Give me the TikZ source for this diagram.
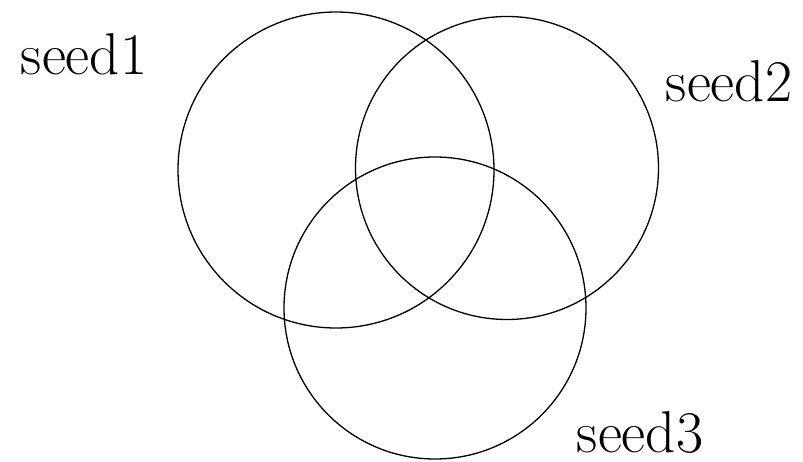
\documentclass[tikz,border=0pt]{standalone}
\begin{document}
\begin{tikzpicture}[x=1pt,y=-1pt,
  ring/.style={draw=black, line width=1.3pt},
  lab/.style={anchor=base, inner sep=0pt, font=\fontsize{59}{66}\selectfont}]
\useasboundingbox (0,0) rectangle (803,462);
\node[ring, circle, minimum size=316pt, inner sep=0pt] (c1) at (336,170) {};
\node[ring, circle, minimum size=303pt, inner sep=0pt] (c2) at (507,168) {};
\node[ring, circle, minimum size=302pt, inner sep=0pt] (c3) at (435,308) {};
\node[lab] (s1) at (84,75) {seed1};
\node[lab] (s2) at (729,102) {seed2};
\node[lab] (s3) at (640,452) {seed3};
\end{tikzpicture}
\end{document}
